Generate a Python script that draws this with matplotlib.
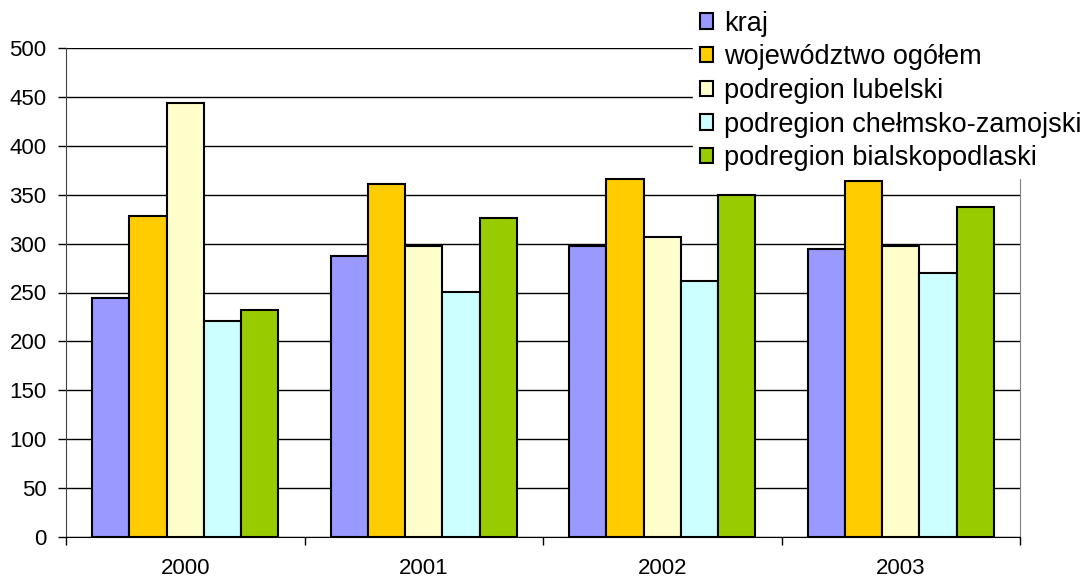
import numpy as np
import matplotlib.pyplot as plt

plt.rcParams['font.family'] = ['Liberation Sans', 'DejaVu Sans']

years = ['2000', '2001', '2002', '2003']
series = ['kraj', 'województwo ogółem', 'podregion lubelski',
          'podregion chełmsko-zamojski', 'podregion bialskopodlaski']
kraj = [244, 287, 298, 294]
wojewodztwo = [328, 361, 366, 364]
lubelski = [444, 298, 307, 298]
chelmsko = [221, 251, 262, 270]
bialsko = [232, 326, 350, 337]
values = [kraj, wojewodztwo, lubelski, chelmsko, bialsko]
colors = ['#9999ff', '#ffcc00', '#ffffcc', '#ccffff', '#99cc00']

fig = plt.figure(figsize=(10.87, 5.8), dpi=100)
ax = fig.add_axes([66/1087, 1-537/580, (1020-66)/1087, (537-48)/580])

x = np.arange(len(years))
w = 0.78 / len(series)
for i, (name, vals) in enumerate(zip(series, values)):
    ax.bar(x - 0.39 + w*(i+0.5), vals, w, color=colors[i], edgecolor='black',
           linewidth=1.5, label=name, zorder=3)

ax.set_xlim(-0.5, 3.5)
ax.set_ylim(0, 500)
ax.set_yticks(np.arange(0, 501, 50))
ax.yaxis.grid(True, color='black', linewidth=1, zorder=0)
ax.set_xticks(x)
ax.set_xticklabels(years)
ax.set_xticks(np.arange(-0.5, 4, 1), minor=True)
ax.tick_params(axis='x', which='major', length=0, labelsize=16, pad=15)
ax.tick_params(axis='x', which='minor', length=6, width=1, direction='out')
ax.tick_params(axis='y', length=6, width=1, labelsize=16, pad=8)
ax.spines['top'].set_visible(False)
ax.spines['right'].set_color('#808080')
ax.spines['left'].set_color('#404040')

leg = ax.legend(loc='upper left', bbox_to_anchor=(693/1087, 1 - 4/580), bbox_transform=fig.transFigure,
                frameon=True, fancybox=False, edgecolor='white', framealpha=1,
                fontsize=19.5, handlelength=0.5, handleheight=0.5, handletextpad=0.4,
                labelspacing=0.28, borderpad=0.25, borderaxespad=0)
for h in leg.legend_handles:
    h.set_linewidth(1.5)

fig.savefig('out.png', dpi=100)
